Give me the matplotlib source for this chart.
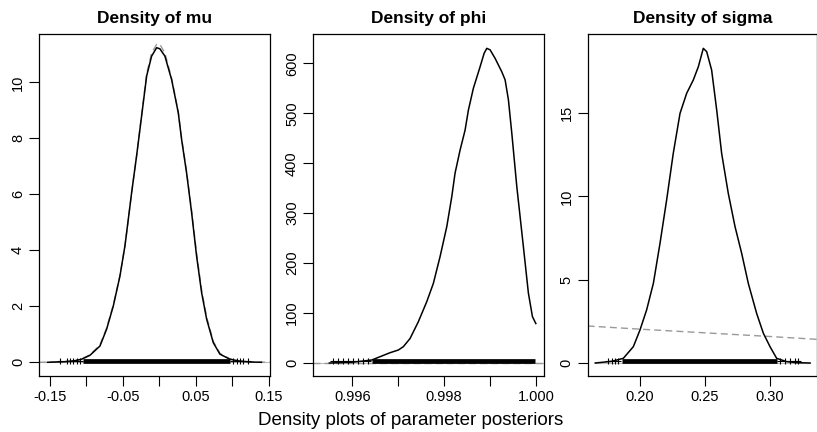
import matplotlib
matplotlib.use("Agg")
import matplotlib.pyplot as plt
import matplotlib.transforms as mtransforms

plt.rcParams['font.family'] = ['Liberation Sans', 'DejaVu Sans']

# ---- data ----
# mu
mu_x = [-0.1533, -0.13, -0.115, -0.1066, -0.0952, -0.0815, -0.0724, -0.0632, -0.0541,
        -0.0473, -0.0427, -0.0381, -0.0313, -0.0244, -0.0175, -0.0107, -0.0038, 0.0007,
        0.0075, 0.0167, 0.0258, 0.0304, 0.0372, 0.0441, 0.0509, 0.0578, 0.0647, 0.0738,
        0.0829, 0.0966, 0.1103, 0.125, 0.1398]
mu_y = [0.0, 0.02, 0.06, 0.11, 0.25, 0.58, 1.18, 2.01, 3.08,
        4.15, 5.1, 6.06, 7.37, 8.8, 10.23, 10.94, 11.24, 11.2,
        10.94, 10.1, 8.92, 7.96, 6.77, 5.35, 3.8, 2.49, 1.54, 0.7,
        0.29, 0.11, 0.04, 0.01, 0.0]
# gray dashed curve, almost on top of the black one
mu_prior_x = [-0.165, -0.13, -0.115, -0.1066, -0.0952, -0.0815, -0.0724, -0.0632, -0.0541,
              -0.0473, -0.0427, -0.0381, -0.0313, -0.0244, -0.0175, -0.0107, -0.0038,
              0.0007, 0.0075, 0.0167, 0.0258, 0.0304, 0.0372, 0.0441, 0.0509, 0.0578,
              0.0647, 0.0738, 0.0829, 0.0966, 0.1103, 0.125, 0.1515]
mu_prior_y = [0.0, 0.02, 0.06, 0.12, 0.27, 0.62, 1.22, 2.05, 3.1,
              4.15, 5.08, 6.05, 7.38, 8.85, 10.3, 11.05, 11.36,
              11.36, 11.05, 10.15, 8.95, 8.0, 6.82, 5.42, 3.9, 2.58,
              1.62, 0.75, 0.32, 0.12, 0.04, 0.01, 0.0]
mu_rug_dense = [-0.1044, 0.0966]
mu_rug_sparse = [-0.1363, -0.127, -0.1226, -0.1181, -0.1134, -0.1089,
                 0.1011, 0.1058, 0.1103, 0.1148, 0.1212]
mu_zero = [-0.165, 0.1515]
mu_xticks = [-0.15, -0.10, -0.05, 0.0, 0.05, 0.10, 0.15]
mu_xlabels = ['-0.15', '', '-0.05', '', '0.05', '', '0.15']
mu_yticks = [0, 2, 4, 6, 8, 10]

# phi
phi_x = [0.9955, 0.9960, 0.996423, 0.996821, 0.997002, 0.997111, 0.997257, 0.997438,
         0.997621, 0.997765, 0.997911, 0.998057, 0.998166, 0.998237, 0.998346, 0.998455,
         0.998527, 0.998636, 0.998782, 0.998870, 0.998928, 0.999, 0.999109, 0.999255,
         0.999327, 0.999399, 0.999473, 0.999582, 0.999725, 0.999834, 0.999922, 0.999996]
phi_y = [0.0, 1.5, 6, 20.6, 26, 32.7, 49, 82.7,
         122.8, 159.5, 213, 273, 333, 380, 426, 466,
         506, 550, 593, 620, 630, 627, 610, 583,
         567, 527, 460, 353, 233, 140, 93, 79]
phi_prior_x = [0.99514, 1.00017]
phi_prior_y = [0.5, 0.5]
phi_rug_dense = [0.996423, 0.99998]
phi_rug_sparse = [0.995586, 0.995695, 0.995804, 0.995913, 0.996022, 0.996131,
                  0.99624, 0.996349]
phi_zero = [0.99514, 1.00017]
phi_xticks = [0.996, 0.997, 0.998, 0.999, 1.000]
phi_xlabels = ['0.996', '', '0.998', '', '1.000']
phi_yticks = [0, 100, 200, 300, 400, 500, 600]

# sigma
sig_x = [0.1656, 0.1782, 0.1872, 0.1949, 0.2, 0.2051, 0.2103, 0.2154, 0.2205, 0.2256,
         0.2308, 0.2359, 0.241, 0.2449, 0.2487, 0.2513, 0.2551, 0.259, 0.2628, 0.2679,
         0.2731, 0.2782, 0.2833, 0.2897, 0.2949, 0.30, 0.3051, 0.3128, 0.3205, 0.3308]
sig_y = [0.0, 0.1, 0.28, 0.98, 1.98, 3.18, 4.78, 7.18, 9.78, 12.58,
         14.98, 16.18, 16.98, 17.78, 18.88, 18.68, 17.58, 15.18, 12.58, 10.18,
         8.18, 6.58, 4.78, 2.98, 1.78, 0.98, 0.28, 0.08, 0.02, 0.0]
sig_prior_x = [0.1598, 0.20, 0.25, 0.30, 0.3359]
sig_prior_y = [2.22, 2.03, 1.81, 1.59, 1.42]
sig_rug_dense = [0.1859, 0.3051]
sig_rug_sparse = [0.1756, 0.1782, 0.1808, 0.1833, 0.3077, 0.3115, 0.3154, 0.3192, 0.3215]
sig_zero = [0.1654, 0.3308]
sig_xticks = [0.20, 0.25, 0.30]
sig_xlabels = ['0.20', '0.25', '0.30']
sig_yticks = [0, 5, 10, 15]

titles = ['Density of mu', 'Density of phi', 'Density of sigma']

fig = plt.figure(figsize=(8.17, 4.32), dpi=100)

# axes boxes (pixel based)
boxes = [(39, 231), (313, 231), (587.7, 229)]
xlims = [(-0.165, 0.1515), (0.995144, 1.000174), (0.1598, 0.3359)]
ylims = [(-0.49, 11.73), (-26, 658.7), (-0.78, 19.74)]

panels = [
    (mu_x, mu_y, mu_prior_x, mu_prior_y, mu_rug_dense, mu_rug_sparse, mu_zero,
     mu_xticks, mu_xlabels, mu_yticks),
    (phi_x, phi_y, phi_prior_x, phi_prior_y, phi_rug_dense, phi_rug_sparse, phi_zero,
     phi_xticks, phi_xlabels, phi_yticks),
    (sig_x, sig_y, sig_prior_x, sig_prior_y, sig_rug_dense, sig_rug_sparse, sig_zero,
     sig_xticks, sig_xlabels, sig_yticks),
]

for i, (px, py, prx, pry, rd, rs, zr, xt, xl, yt) in enumerate(panels):
    left, w = boxes[i]
    ax = fig.add_axes([left / 817, (432 - 376) / 432, w / 817, 342 / 432])
    # rug sits a touch above zero
    up = ax.transData + mtransforms.ScaledTranslation(0, 1.2 / 72, fig.dpi_scale_trans)

    ax.plot(zr, [0, 0], color='#bbbbbb', linewidth=0.8, zorder=1)
    ax.plot(prx, pry, color='#999999', linestyle=(0, (5, 3)), linewidth=1.0, zorder=2)
    ax.plot(rd, [0, 0], color='black', linewidth=3.4, solid_capstyle='butt',
            transform=up, zorder=3)
    ax.plot(rs, [0] * len(rs), linestyle='none', marker='+', markersize=4.5,
            markeredgewidth=0.8, color='black', transform=up, zorder=3)
    ax.plot(px, py, color='black', linewidth=1.1, zorder=4)

    ax.set_xlim(xlims[i])
    ax.set_ylim(ylims[i])
    ax.set_xticks(xt)
    ax.set_xticklabels(xl)
    ax.set_yticks(yt)
    ax.set_yticklabels([str(v) for v in yt], rotation=90, va='center')
    ax.tick_params(direction='out', length=7, width=0.8, labelsize=10.5, pad=3)
    for s in ax.spines.values():
        s.set_linewidth(0.9)
    ax.set_title(titles[i], fontsize=12.5, fontweight='bold', pad=8)

fig.text(0.5025, 7 / 432, 'Density plots of parameter posteriors', ha='center',
         va='baseline', fontsize=13.5)

plt.savefig('out.png', dpi=100)
plt.close()
